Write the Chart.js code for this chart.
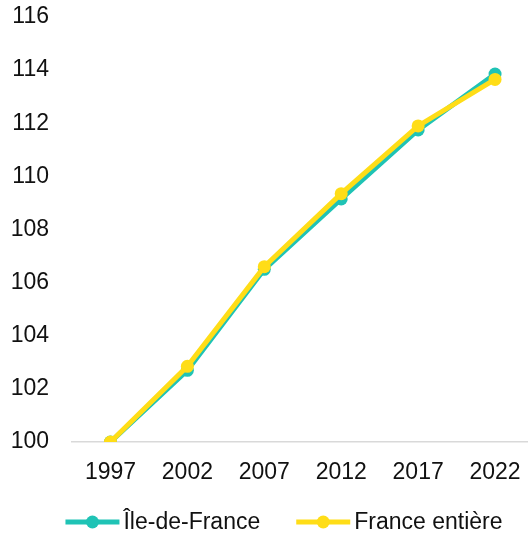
<!DOCTYPE html>
<html>
<head>
<meta charset="utf-8">
<script src="https://cdn.jsdelivr.net/npm/chart.js@4/dist/chart.umd.min.js"></script>
<style>
html,body{margin:0;padding:0;background:#fff;overflow:hidden;}
canvas{display:block;}
</style>
</head>
<body>
<canvas id="c" width="540" height="533" style="width:540px;height:533px"></canvas>
<script>
const categories = ['1997','2002','2007','2012','2017','2022'];
const idfValues = [100, 102.7, 106.5, 109.15, 111.75, 113.85];
const franceValues = [100, 102.85, 106.6, 109.35, 111.9, 113.65];
const seriesNames = ['Île-de-France', 'France entière'];
const yTicks = [100,102,104,106,108,110,112,114,116];

const TEAL = '#1FC3B5';
const YELLOW = '#FFDD17';
const FONT = "'Liberation Sans', Arial, sans-serif";

const customLegend = {
  id: 'customLegend',
  afterDraw(chart) {
    const ctx = chart.ctx;
    const ds = chart.data.datasets;
    ctx.save();
    ctx.font = '23px ' + FONT;
    const lineLen = 54, gapText = 4, itemGap = 36;
    const widths = ds.map(d => lineLen + gapText + ctx.measureText(d.label).width);
    const total = widths.reduce((a,b)=>a+b,0) + itemGap*(ds.length-1);
    let x = 284 - total/2;
    const y = 522;
    ds.forEach((d,i) => {
      ctx.strokeStyle = d.borderColor;
      ctx.lineWidth = 5;
      ctx.lineCap = 'butt';
      ctx.beginPath();
      ctx.moveTo(x, y);
      ctx.lineTo(x+lineLen, y);
      ctx.stroke();
      ctx.fillStyle = d.borderColor;
      ctx.beginPath();
      ctx.arc(x+lineLen/2, y, 6.5, 0, Math.PI*2);
      ctx.fill();
      ctx.fillStyle = '#111';
      ctx.textAlign = 'left';
      ctx.textBaseline = 'middle';
      ctx.fillText(d.label, x+lineLen+gapText, y+1);
      x += widths[i] + itemGap;
    });
    ctx.restore();
  }
};

new Chart(document.getElementById('c'), {
  type: 'line',
  data: {
    labels: categories,
    datasets: [
      {
        label: seriesNames[0],
        data: idfValues,
        borderColor: TEAL,
        backgroundColor: TEAL,
        borderWidth: 5,
        pointRadius: 6.5,
        pointBorderWidth: 0,
        pointBackgroundColor: TEAL,
        order: 2,
        tension: 0
      },
      {
        label: seriesNames[1],
        data: franceValues,
        borderColor: YELLOW,
        backgroundColor: YELLOW,
        borderWidth: 5,
        pointRadius: 6.5,
        pointBorderWidth: 0,
        pointBackgroundColor: YELLOW,
        order: 1,
        tension: 0
      }
    ]
  },
  options: {
    responsive: false,
    animation: false,
    devicePixelRatio: 1,
    layout: { padding: { top: 17, right: 4, bottom: 49, left: 0 } },
    plugins: {
      legend: { display: false },
      tooltip: { enabled: false }
    },
    scales: {
      x: {
        type: 'category',
        offset: true,
        grid: { display: false, drawTicks: false },
        border: { display: true, color: '#D9D9D9', width: 1.5 },
        ticks: { color: '#111', font: { family: FONT, size: 23 }, padding: 17, maxRotation: 0 },
        afterFit(s) { s.height = 42; s.paddingLeft = 0; s.paddingRight = 0; }
      },
      y: {
        min: 100,
        max: 116,
        afterBuildTicks(s) { s.ticks = yTicks.map(v => ({ value: v })); },
        grid: { display: false, drawTicks: false },
        border: { display: false },
        ticks: { color: '#111', font: { family: FONT, size: 23 }, padding: 23 },
        afterFit(s) { s.width = 72; s.paddingTop = 0; s.paddingBottom = 0; }
      }
    }
  },
  plugins: [customLegend]
});
</script>
</body>
</html>
